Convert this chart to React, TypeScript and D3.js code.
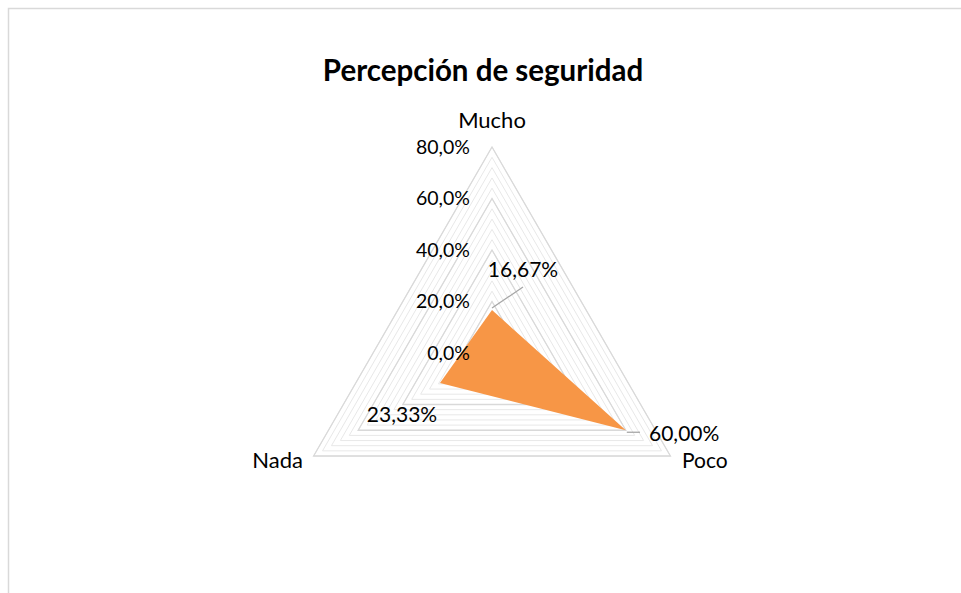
import React from "react";
import * as d3 from "d3";

const categories = ["Mucho", "Poco", "Nada"];
const values = [0.1667, 0.6, 0.2333];
const valueLabels = ["16,67%", "60,00%", "23,33%"];
const majorTicks = [0, 0.2, 0.4, 0.6, 0.8];
const tickLabels = ["0,0%", "20,0%", "40,0%", "60,0%", "80,0%"];
const minorTicks = d3.range(0.04, 0.8001, 0.04);

const W = 961;
const H = 593;
const cx = 492;
const cy = 353;
const FONT = "Lato, 'Open Sans', sans-serif";

export default function App() {
  const r = d3.scaleLinear().domain([0, 0.8]).range([0, 206]);
  const angle = d3
    .scaleOrdinal<string, number>()
    .domain(categories)
    .range([-Math.PI / 2, Math.PI / 6, (5 * Math.PI) / 6]);

  const pt = (cat: string, v: number): [number, number] => {
    const a = angle(cat);
    return [cx + r(v) * Math.cos(a), cy + r(v) * Math.sin(a)];
  };

  const ring = (v: number) =>
    d3.line().curve(d3.curveLinearClosed)(categories.map((c) => pt(c, v))) || "";

  const area =
    d3.line().curve(d3.curveLinearClosed)(categories.map((c, i) => pt(c, values[i]))) || "";

  const pM = pt("Mucho", values[0]);
  const pP = pt("Poco", values[1]);

  return (
    <svg
      width={W}
      height={H}
      style={{ position: "absolute", left: 0, top: 0, background: "#fff" }}
      fontFamily={FONT}
    >
      <rect x={8.5} y={8.5} width={1100} height={1100} fill="#fff" stroke="#d9d9d9" strokeWidth={1.5} />
      <text x={483} y={81} textAnchor="middle" fontSize={29.5} fontWeight="bold" fill="#000">
        Percepción de seguridad
      </text>
      {minorTicks.map((t) => (
        <path key={"m" + t} d={ring(t)} fill="none" stroke="#e8e8e8" strokeWidth={1} />
      ))}
      {majorTicks.slice(1).map((t) => (
        <path key={"M" + t} d={ring(t)} fill="none" stroke="#d9d9d9" strokeWidth={1.3} />
      ))}
      <path d={area} fill="#F79646" stroke="none" />
      {majorTicks.map((t, i) => (
        <text
          key={"t" + t}
          x={470}
          y={cy - r(t)}
          dy="0.35em"
          textAnchor="end"
          fontSize={19.5}
          fill="#000"
        >
          {tickLabels[i]}
        </text>
      ))}
      <text x={cx} y={128} textAnchor="middle" fontSize={22} fill="#000">
        {categories[0]}
      </text>
      <text x={682} y={468} textAnchor="start" fontSize={21} fill="#000">
        {categories[1]}
      </text>
      <text x={303} y={468} textAnchor="end" fontSize={22} fill="#000">
        {categories[2]}
      </text>
      <line x1={pM[0]} y1={pM[1] - 2} x2={523} y2={287} stroke="#a6a6a6" strokeWidth={1.3} />
      <text x={523} y={270} dy="0.35em" textAnchor="middle" fontSize={21} fill="#000">
        {valueLabels[0]}
      </text>
      <line x1={pP[0] + 1} y1={pP[1] + 2} x2={640} y2={pP[1] + 2} stroke="#a6a6a6" strokeWidth={1.3} />
      <text x={649} y={434} dy="0.35em" textAnchor="start" fontSize={21} fill="#000">
        {valueLabels[1]}
      </text>
      <text x={402} y={415} dy="0.35em" textAnchor="middle" fontSize={21} fill="#000">
        {valueLabels[2]}
      </text>
    </svg>
  );
}
